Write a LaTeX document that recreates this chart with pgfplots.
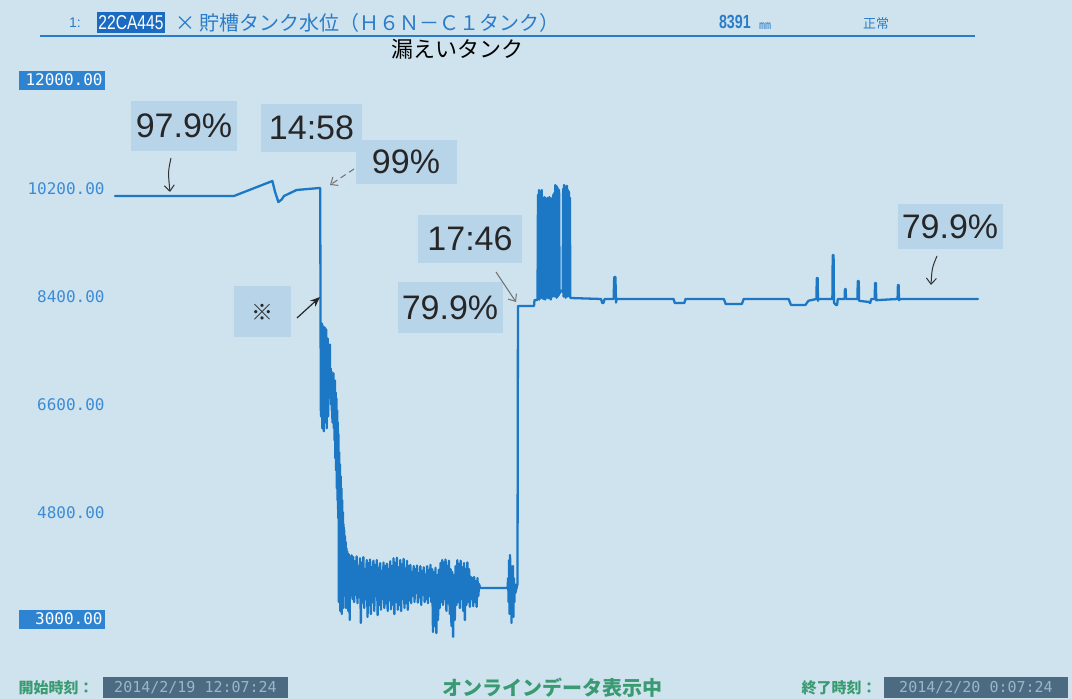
\documentclass[border=0pt]{standalone}
\usepackage{fontspec}
\usepackage{graphicx}
\usepackage{pgfplots}
\pgfplotsset{compat=1.18}
\usetikzlibrary{arrows.meta}
\setmainfont{Liberation Sans}
\newfontfamily\cjk{Noto Sans CJK JP}
\newfontfamily\mono{DejaVu Sans Mono}

\definecolor{bg}{RGB}{207,227,238}
\definecolor{annot}{RGB}{184,212,233}
\definecolor{trend}{RGB}{28,120,196}
\definecolor{tickblue}{RGB}{59,139,213}
\definecolor{hlblue}{RGB}{47,132,210}
\definecolor{hdrblue}{RGB}{42,124,200}
\definecolor{hdrbox}{RGB}{27,108,192}
\definecolor{ftgreen}{RGB}{58,155,114}
\definecolor{ftbox}{RGB}{76,107,131}
\definecolor{fttext}{RGB}{154,183,201}

% highlighted tick label (first and last)
\newcommand\tickbox[1]{{\setlength{\fboxsep}{0pt}\colorbox{hlblue}{\makebox[43pt][r]{\rule[-2.5pt]{0pt}{9.5pt}\textcolor{white}{#1}\hspace{1pt}}}}}

\begin{document}
\begin{tikzpicture}
\fill[bg] (0,0) rectangle (536pt,349.5pt);

\begin{axis}[
    at={(57.5pt,39.5pt)}, anchor=south west,
    scale only axis, width=431.5pt, height=269.5pt,
    xmin=0, xmax=720, ymin=3000, ymax=12000, % x: Minuten ab 12:07:24
    axis line style={draw=none}, tick style={draw=none},
    xtick=\empty, scaled y ticks=false,
    ytick={3000,4800,6600,8400,10200,12000},
    yticklabels={\tickbox{3000.00},4800.00,6600.00,8400.00,10200.00,\tickbox{12000.00}},
    yticklabel style={anchor=east, inner sep=0pt, xshift=-5pt,
        font=\mono\fontsize{8}{8}\selectfont, text=tickblue},
    clip=false,
]
% Tankfüllstand (mm)
\addplot[line width=1.15pt, color=trend, line join=round, line cap=round] coordinates {
 (0,10080) (99.3,10080) (131.3,10330) (133.5,10150) (136.3,9979) (139,10020)
 (141,10080) (151.5,10180) (170.4,10213) (171.2,10213)
 (171.5,7900) (171.8,6400) (172.1,7850) (172.4,6700) (172.7,7950) (173.0,6200)
 (173.3,7800) (173.6,6500) (173.9,7900) (174.2,6150) (174.5,7700) (174.8,6900)
 (175.1,7880) (175.4,6300) (175.7,7600) (176.0,6600) (176.3,7850) (176.6,6200)
 (176.9,7500) (177.2,6800) (177.5,7700) (177.8,6400) (178.1,7400) (178.4,6700)
 (178.7,7300) (179.0,6900) (179.3,7600) (179.6,6800) (179.9,7200) (180.2,6600)
 (180.5,7150) (180.8,6500) (181.1,7100) (181.4,6300) (181.7,7050) (182.0,6400)
 (182.3,7120) (182.6,6200) (182.9,6900) (183.2,6000) (183.5,7000) (183.8,5700)
 (184.1,6800) (184.4,5500) (184.7,6700) (185.0,5200) (185.3,6500) (185.6,5000)
 (185.9,6300) (186.2,4700) (186.5,6100) (186.8,3300) (187.1,5800) (187.4,4400)
 (187.7,5600) (188.0,3150) (188.3,5400) (188.6,4200) (188.9,5200) (189.2,3100)
 (189.5,5000) (189.8,4100) (190.1,4800) (190.4,3200) (190.7,4600) (191.0,3900)
 (191.3,4500) (191.6,3500) (191.9,4400) (192.2,3400) (192.5,4300) (192.8,3200)
 (193.1,4200) (193.4,3600) (193.7,4150) (194.0,3300) (194.3,4100) (194.6,3150)
 (194.9,4100) (195.2,3300) (195.5,4050) (195.8,3000) (196.1,4050) (196.4,3400)
 (196.7,4000)
 (197.4,4080) (198.1,3350) (198.8,4050) (199.5,3300) (200.2,3980) (200.9,3420)
 (201.6,4060) (202.3,3280) (203.0,3900) (203.7,3380) (204.4,4030) (205.1,2950)
 (205.8,3960) (206.5,3300) (207.2,4050) (207.9,3200) (208.6,3850) (209.3,3350)
 (210.0,4000) (210.7,3050) (211.4,3950) (212.1,3250) (212.8,4010) (213.5,3100)
 (214.2,3880) (214.9,3300) (215.6,3990) (216.3,3150) (217.0,3920) (217.7,3400)
 (218.4,4000) (219.1,3080) (219.8,3870) (220.5,3250) (221.2,3950) (221.9,3170)
 (222.6,3820) (223.3,3350) (224.0,3960) (224.7,3200) (225.4,3900) (226.1,3280)
 (226.8,3940) (227.5,3150) (228.2,3850) (228.9,3330) (229.6,3980) (230.3,3180)
 (231.0,3900) (231.7,3260) (232.4,4030) (233.1,3100) (233.8,3950) (234.5,3300)
 (235.2,4040) (235.9,3170) (236.6,3880) (237.3,3250) (238.0,4000) (238.7,3150)
 (239.4,3930) (240.1,3350) (240.8,4020) (241.5,3200) (242.2,3860) (242.9,3280)
 (243.6,3990) (244.3,3170) (245.0,3900) (245.7,3330) (246.4,3920) (247.1,3280)
 (247.8,3800) (248.5,3400) (249.2,3900) (249.9,3300) (250.6,3850) (251.3,3450)
 (252.0,3910) (252.7,3290) (253.4,3780) (254.1,3380) (254.8,3900) (255.5,3250)
 (256.2,3820) (256.9,3420) (257.6,3880) (258.3,3300) (259.0,3760) (259.7,3350)
 (260.4,3900) (261.1,3280) (261.8,3830) (262.5,3400) (263.2,3920) (263.9,3300)
 (264.6,3850) (265.3,2800) (266.0,3800) (266.7,2900) (267.4,3870) (268.1,2780)
 (268.8,3750) (269.5,3000) (270.2,3840) (270.9,3200) (271.6,3950) (272.3,3300)
 (273.0,4000) (273.7,3250) (274.4,3960) (275.1,3350) (275.8,4010) (276.5,3150)
 (277.2,3900) (277.9,3280) (278.6,3990) (279.3,3100) (280.0,3850) (280.7,2900)
 (281.4,3800) (282.1,2720) (282.8,3750) (283.5,3000) (284.2,3900) (284.9,3250)
 (285.6,4000) (286.3,3300) (287.0,3930) (287.7,3200) (288.4,3990) (289.1,3350)
 (289.8,3880) (290.5,3150) (291.2,3950) (291.9,3000) (292.6,3850) (293.3,3250)
 (294.0,3960) (294.7,3300) (295.4,3850) (296.1,3220) (296.8,3720) (297.5,3350)
 (298.2,3700) (298.9,3230) (299.6,3720) (300.3,3300) (301.0,3650) (301.7,3220)
 (302.4,3700) (303.1,3400) (303.8,3600) (304.5,3534)
 (327.5,3534)
 (328.0,3700) (328.4,3300) (328.8,4000) (329.2,3100) (329.6,4085) (330.0,3400)
 (330.4,3900) (330.8,2950) (331.2,3800) (331.6,3200) (332.0,3900) (332.4,3050)
 (332.8,3700) (333.2,3300) (333.6,3600) (334.0,3450) (335.8,3600)
 (336.2,8243) (349.6,8243) (350.0,8343) (352.5,8343)
 (352.9,10100) (353.3,8400) (353.7,10180) (354.1,8350) (354.5,10150) (354.9,8450)
 (355.3,10120) (355.7,8380) (356.1,10180) (356.5,8400) (356.9,10050)
 (357.3,8360) (357.7,10000) (358.1,8420) (358.5,10060) (358.9,8350) (359.3,10030)
 (359.7,8400) (360.1,9950) (360.5,8380) (360.9,10050) (361.3,8450) (361.7,10010)
 (362.1,8370) (362.5,10063) (362.9,8420) (363.3,9980) (363.7,8350) (364.1,10040)
 (364.5,8500) (364.9,10000) (365.3,8400)
 (365.7,10100) (366.1,8450) (366.5,10130) (366.9,8400) (367.3,10263) (367.7,8420)
 (368.1,10250) (368.5,8380) (368.9,10230) (369.3,8400) (369.7,10200) (370.1,8420)
 (370.5,10180) (370.9,8450) (371.5,8500) (373.5,8480)
 (373.9,10200) (374.3,8400) (374.7,10263) (375.1,8420) (375.5,10240) (375.9,8380)
 (376.3,10220) (376.7,8450) (377.1,10250) (377.5,8400) (377.9,10180) (378.3,8430)
 (378.7,10150) (379.1,8400) (379.5,10050) (379.9,8380) (380.5,8376)
 (405.5,8360) (406.5,8293) (407.5,8293) (408.5,8360)
 (416.0,8360) (416.5,8727) (417.5,8727) (418.0,8300) (418.5,8360)
 (466.0,8360) (467.0,8293) (475.0,8293) (476.0,8360)
 (508.0,8360) (509.5,8276) (523.0,8276) (524.5,8360)
 (562.0,8360) (564.0,8259) (576.0,8259) (578.5,8330)
 (585.2,8360) (585.5,8710) (586.2,8710) (586.5,8330) (587.0,8360)
 (598.5,8360) (598.8,9094) (599.5,9094) (599.8,8300) (601.5,8259) (602.5,8259) (603.0,8360)
 (608.7,8360) (609.0,8527) (609.6,8527) (609.9,8360)
 (619.4,8360) (619.7,8660) (620.5,8660) (620.8,8330)
 (629.0,8310) (630.0,8293) (631.0,8360)
 (633.8,8360) (634.1,8627) (634.8,8627) (635.1,8340)
 (652.9,8360) (653.2,8594) (653.8,8594) (654.1,8340) (655.0,8360)
 (720,8360)
};
\end{axis}

% Kopf, Fuss und Anmerkungen in Pixelkoordinaten der Vorlage
\begin{scope}[x=0.5pt, y=-0.5pt, yshift=349.5pt]
  \node[anchor=west, text=hdrblue, font=\fontsize{7}{7}\selectfont] at (62,23) {1:};
  \node[fill=hdrbox, minimum width=34pt, minimum height=10.5pt, inner sep=0pt, text=white]
    at (131,23) {\scalebox{0.78}[1]{\fontsize{10}{10}\selectfont 22CA445}};
  \node[anchor=west, text=hdrblue, font=\cjk\fontsize{10}{10}\selectfont]
    at (168,23) {× 貯槽タンク水位（Ｈ６Ｎ－Ｃ１タンク）};
  \node[anchor=west, text=hdrblue, font=\bfseries\fontsize{9.5}{9}\selectfont]
    at (712,22) {\scalebox{0.75}[1]{8391}};
  \node[anchor=west, text=hdrblue, font=\cjk\fontsize{6}{6}\selectfont] at (752,26) {㎜};
  \node[anchor=west, text=hdrblue, font=\cjk\fontsize{6.5}{6}\selectfont] at (856,24) {正常};
  \draw[hdrblue, line width=0.7pt] (40,36) -- (975,36);
  \node[font=\cjk\fontsize{11}{11}\selectfont] at (457,49) {漏えいタンク};

  % Fusszeile
  \node[text=ftgreen, font=\cjk\bfseries\fontsize{7.5}{7}\selectfont] at (56,688) {開始時刻：};
  \node[fill=ftbox, minimum width=92.5pt, minimum height=10.5pt, inner sep=0pt,
        text=fttext, font=\mono\fontsize{7.5}{7}\selectfont] at (195.5,687.5) {2014/2/19 12:07:24};
  \node[text=ftgreen, font=\cjk\bfseries\fontsize{10}{10}\selectfont] at (552,688) {オンラインデータ表示中};
  \node[text=ftgreen, font=\cjk\bfseries\fontsize{7.5}{7}\selectfont] at (839,688) {終了時刻：};
  \node[fill=ftbox, minimum width=92pt, minimum height=10.5pt, inner sep=0pt,
        text=fttext, font=\mono\fontsize{7.5}{7}\selectfont] at (976,687.5) {2014/2/20 0:07:24};

  % Anmerkungen
  \tikzset{note/.style={fill=annot, inner sep=0pt, font=\fontsize{17}{17}\selectfont, text=black!85}}
  \node[note, minimum width=53pt, minimum height=25pt] at (184,126) {97.9\%};
  \node[note, minimum width=50.5pt, minimum height=24pt] at (311.5,128) {14:58};
  \node[note, minimum width=50.5pt, minimum height=22pt] at (406,162) {99\%};
  \node[note, minimum width=52pt, minimum height=24pt] at (470,239) {17:46};
  \node[note, minimum width=52.5pt, minimum height=25.5pt] at (450,308) {79.9\%};
  \node[note, minimum width=28.5pt, minimum height=25.5pt, font=\cjk\fontsize{11}{11}\selectfont] at (262,312) {※};
  \node[note, minimum width=52.5pt, minimum height=22.5pt] at (950,227) {79.9\%};

  % Pfeile
  \draw[black!80, line width=0.5pt, -{Straight Barb[length=3pt,width=5pt]}]
    (171,158) .. controls (168,172) .. (170,192);
  \draw[black!55, line width=0.5pt, densely dashed, -{Straight Barb[length=3pt,width=5pt]}]
    (354,169) -- (330,185);
  \draw[black!85, line width=0.6pt, -{Stealth[length=5pt,width=4pt]}] (297,318) -- (320,297);
  \draw[black!55, line width=0.5pt, -{Straight Barb[length=3pt,width=5pt]}] (496,272) -- (516,302);
  \draw[black!80, line width=0.5pt, -{Straight Barb[length=3pt,width=5pt]}]
    (937,256) .. controls (932,268) .. (931,285);
\end{scope}

\pgfresetboundingbox
\path (0,0) rectangle (536pt,349.5pt);
\end{tikzpicture}
\end{document}
